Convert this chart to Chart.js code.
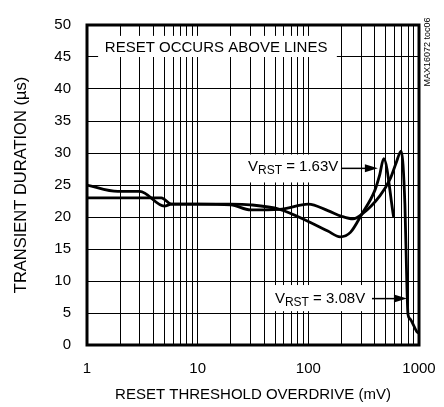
<!DOCTYPE html>
<html>
<head>
<meta charset="utf-8">
<script src="https://cdn.jsdelivr.net/npm/chart.js@4.4.0/dist/chart.umd.min.js"></script>
<style>
  html, body { margin: 0; padding: 0; background: #fff; }
</style>
</head>
<body>
<canvas id="myChart" width="444" height="407"></canvas>
<script>
// values
const v308X = [1, 1.9, 3.0, 5.0, 5.8, 10, 20, 30, 55, 100, 150, 200, 253, 303, 443, 550, 620, 690, 746, 777, 795, 828, 955, 1000];
const v308Y = [25, 24, 24, 21.7, 22, 22, 21.9, 21.1, 21.2, 22, 21, 20.1, 19.7, 20.4, 23.3, 26, 28.4, 30.3, 21.9, 9.4, 4.8, 4.1, 2.1, 1.8];

const v163X = [1, 4.7, 5.8, 10, 20, 30, 55, 100, 150, 194, 240, 303, 400, 440, 480, 590];
const v163Y = [23, 23, 22, 22, 22, 21.9, 21.2, 19.3, 17.8, 16.9, 17.6, 20.4, 24.2, 26.5, 29.1, 20];

const xTicks = [1, 2, 3, 4, 5, 6, 7, 8, 9, 10, 20, 30, 40, 50, 60, 70, 80, 90, 100, 200, 300, 400, 500, 600, 700, 800, 900, 1000];
const xLabels = ['1', '10', '100', '1000'];
const yTicks = [0, 5, 10, 15, 20, 25, 30, 35, 40, 45, 50];

const FONT = '"Liberation Sans", Arial, sans-serif';

function toPoints(xs, ys) {
    var pts = [];
    for (var i = 0; i < xs.length; i++) pts.push({ x: xs[i], y: ys[i] });
    return pts;
}

// text boxes, in data units
const noteBox = { x0: 1.26, x1: 181, y0: 45.0, y1: 48.3, tx: 1.45, ty: 46.4, text: 'RESET OCCURS ABOVE LINES' };
const label163 = { x0: 25.7, x1: 193, y0: 25.4, y1: 29.76, tx: 28.5, ty: 27.9, value: ' = 1.63V', ax0: 197, ax1: 425, ay: 27.6 };
const label308 = { x0: 46.9, x1: 360, y0: 5.29, y1: 9.37, tx: 49.9, ty: 7.2, value: ' = 3.08V', ax0: 376, ax1: 778, ay: 7.25 };

const annotations = {
    id: 'annotations',
    beforeDatasetsDraw(chart) {
        const ctx = chart.ctx;
        const xs = chart.scales.x, ys = chart.scales.y;
        ctx.save();
        ctx.fillStyle = '#fff';
        [noteBox, label163, label308].forEach(b => {
            const l = xs.getPixelForValue(b.x0), r = xs.getPixelForValue(b.x1);
            const t = ys.getPixelForValue(b.y1), bt = ys.getPixelForValue(b.y0);
            ctx.fillRect(l, t, r - l, bt - t);
        });
        ctx.fillStyle = '#000';
        ctx.textBaseline = 'middle';
        ctx.textAlign = 'left';
        ctx.font = '15px ' + FONT;
        ctx.fillText(noteBox.text, xs.getPixelForValue(noteBox.tx), ys.getPixelForValue(noteBox.ty));

        [label163, label308].forEach(b => {
            let x = xs.getPixelForValue(b.tx);
            const y = ys.getPixelForValue(b.ty);
            ctx.font = '15px ' + FONT;
            ctx.fillText('V', x, y);
            x += ctx.measureText('V').width;
            ctx.font = '12px ' + FONT;
            ctx.fillText('RST', x, y + 4);
            x += ctx.measureText('RST').width;
            ctx.font = '15px ' + FONT;
            ctx.fillText(b.value, x, y);

            // arrow
            const a0 = xs.getPixelForValue(b.ax0), a1 = xs.getPixelForValue(b.ax1);
            const ay = ys.getPixelForValue(b.ay);
            ctx.strokeStyle = '#000';
            ctx.lineWidth = 1.5;
            ctx.beginPath();
            ctx.moveTo(a0, ay);
            ctx.lineTo(a1 - 10, ay);
            ctx.stroke();
            ctx.beginPath();
            ctx.moveTo(a1, ay);
            ctx.lineTo(a1 - 13, ay - 4);
            ctx.lineTo(a1 - 13, ay + 4);
            ctx.closePath();
            ctx.fill();
        });
        ctx.restore();
    },
    afterDatasetsDraw(chart) {
        const ctx = chart.ctx;
        const a = chart.chartArea;
        ctx.save();
        ctx.strokeStyle = '#000';
        ctx.lineWidth = 3;
        ctx.strokeRect(a.left, a.top, a.right - a.left, a.bottom - a.top);
        // figure tag on the right
        ctx.translate(428, 52);
        ctx.rotate(-Math.PI / 2);
        ctx.font = '9px ' + FONT;
        ctx.fillStyle = '#000';
        ctx.textAlign = 'center';
        ctx.textBaseline = 'middle';
        ctx.fillText('MAX16072 toc06', 0, 0);
        ctx.restore();
    }
};

const lineStyle = {
    borderColor: '#000',
    borderWidth: 2.8,
    pointRadius: 0,
    fill: false,
    cubicInterpolationMode: 'monotone'
};

new Chart(document.getElementById('myChart'), {
    type: 'line',
    data: {
        datasets: [
            Object.assign({ label: 'VRST = 3.08V', data: toPoints(v308X, v308Y) }, lineStyle),
            Object.assign({ label: 'VRST = 1.63V', data: toPoints(v163X, v163Y) }, lineStyle)
        ]
    },
    options: {
        responsive: false,
        animation: false,
        layout: { padding: { top: 14, right: 25, left: 0, bottom: 0 } },
        plugins: { legend: { display: false }, tooltip: { enabled: false } },
        scales: {
            x: {
                type: 'logarithmic',
                min: 1,
                max: 1000,
                afterBuildTicks: s => { s.ticks = xTicks.map(v => ({ value: v })); },
                afterFit: s => { s.height = 62; s.paddingLeft = 0; s.paddingRight = 0; },
                grid: { color: '#000', lineWidth: 1, drawTicks: false },
                border: { display: false },
                ticks: {
                    autoSkip: false,
                    maxRotation: 0,
                    padding: 15,
                    color: '#000',
                    font: { family: FONT, size: 15 },
                    callback: v => xLabels.indexOf(String(v)) >= 0 ? String(v) : ''
                },
                title: {
                    display: true,
                    text: 'RESET THRESHOLD OVERDRIVE (mV)',
                    color: '#000',
                    font: { family: FONT, size: 15 },
                    padding: { top: 0, bottom: 3 }
                }
            },
            y: {
                min: 0,
                max: 50,
                afterBuildTicks: s => { s.ticks = yTicks.map(v => ({ value: v })); },
                afterFit: s => { s.width = 87; },
                grid: { color: '#000', lineWidth: 1, drawTicks: false },
                border: { display: false },
                ticks: {
                    padding: 16,
                    color: '#000',
                    font: { family: FONT, size: 15 }
                },
                title: {
                    display: true,
                    text: 'TRANSIENT DURATION (µs)',
                    color: '#000',
                    font: { family: FONT, size: 16.5 },
                    padding: { top: 12, bottom: 0 }
                }
            }
        }
    },
    plugins: [annotations]
});
</script>
</body>
</html>
